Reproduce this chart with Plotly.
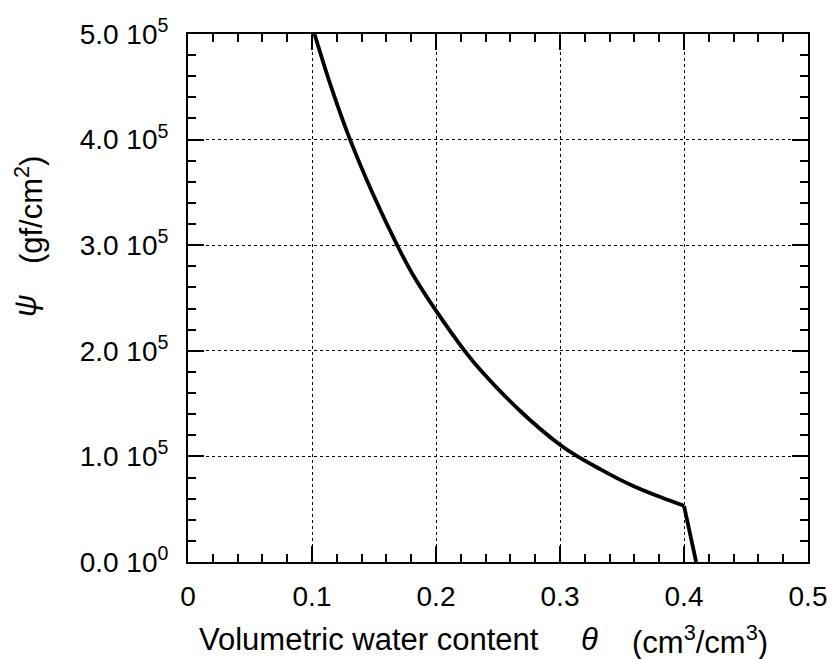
import plotly.graph_objects as go

# Data (theta in cm3/cm3, psi in gf/cm2)
theta_curve = [0.102, 0.1157, 0.1307, 0.1497, 0.1687, 0.1809, 0.200, 0.2231, 0.2353, 0.2679,
               0.300, 0.3141, 0.3331, 0.3467, 0.3604, 0.382, 0.400]
psi_curve = [5.0e5, 4.49e5, 4.0e5, 3.47e5, 3.0e5, 2.73e5, 2.38e5, 2.0e5, 1.826e5, 1.43e5,
             1.11e5, 1.0e5, 0.875e5, 0.79e5, 0.713e5, 0.61e5, 0.532e5]
theta_tail = [0.400, 0.4098]
psi_tail = [0.532e5, 0.0]

x_tickvals = [0, 0.1, 0.2, 0.3, 0.4, 0.5]
x_ticktext = ["0", "0.1", "0.2", "0.3", "0.4", "0.5"]
y_tickvals = [0, 1e5, 2e5, 3e5, 4e5, 5e5]
y_ticktext = ["0.0 10<sup>0</sup>", "1.0 10<sup>5</sup>", "2.0 10<sup>5</sup>",
              "3.0 10<sup>5</sup>", "4.0 10<sup>5</sup>", "5.0 10<sup>5</sup>"]

FONT = "Liberation Sans, Arial, Helvetica, sans-serif"

fig = go.Figure()
fig.add_trace(go.Scatter(x=theta_curve, y=psi_curve, mode="lines",
                         line=dict(color="black", width=3.8, shape="spline", smoothing=1.0),
                         showlegend=False, hoverinfo="skip"))
fig.add_trace(go.Scatter(x=theta_tail, y=psi_tail, mode="lines",
                         line=dict(color="black", width=3.8),
                         showlegend=False, hoverinfo="skip"))

axis_common = dict(
    showline=True, linecolor="black", linewidth=2, mirror="ticks",
    ticks="inside", ticklen=16, tickwidth=2, tickcolor="black",
    showgrid=True, gridcolor="black", gridwidth=1, griddash="dot",
    zeroline=False,
    tickfont=dict(family=FONT, size=28, color="black"),
)

fig.update_xaxes(range=[0, 0.5], tickvals=x_tickvals, ticktext=x_ticktext,
                 minor=dict(dtick=0.02, tick0=0, ticks="inside", ticklen=8, tickwidth=1.5,
                            tickcolor="black", showgrid=False),
                 ticklabelstandoff=8, **axis_common)
fig.update_yaxes(range=[0, 5e5], tickvals=y_tickvals, ticktext=y_ticktext,
                 minor=dict(dtick=2e4, tick0=0, ticks="inside", ticklen=8, tickwidth=1.5,
                            tickcolor="black", showgrid=False),
                 ticklabelstandoff=12, **axis_common)

TITLE_FONT = dict(family=FONT, size=31, color="black")
fig.add_annotation(xref="paper", yref="paper", x=0.292, y=-0.1477,
                   text="Volumetric water content",
                   showarrow=False, xanchor="center", yanchor="middle", font=TITLE_FONT)
fig.add_annotation(xref="paper", yref="paper", x=0.648, y=-0.1477,
                   text="<i>θ</i>",
                   showarrow=False, xanchor="center", yanchor="middle", font=TITLE_FONT)
fig.add_annotation(xref="paper", yref="paper", x=0.826, y=-0.1477,
                   text="(cm<sup>3</sup>/cm<sup>3</sup>)",
                   showarrow=False, xanchor="center", yanchor="middle", font=TITLE_FONT)
fig.add_annotation(xref="paper", yref="paper", x=-0.261, y=0.485,
                   text="<i>ψ</i>",
                   showarrow=False, textangle=-90, xanchor="center", yanchor="middle", font=TITLE_FONT)
fig.add_annotation(xref="paper", yref="paper", x=-0.256, y=0.667,
                   text="(gf/cm<sup>2</sup>)",
                   showarrow=False, textangle=-90, xanchor="center", yanchor="middle", font=TITLE_FONT)

fig.update_layout(width=838, height=659,
                  margin=dict(l=188, r=30, t=34, b=97),
                  paper_bgcolor="white", plot_bgcolor="white")

fig.write_html("out.html")
